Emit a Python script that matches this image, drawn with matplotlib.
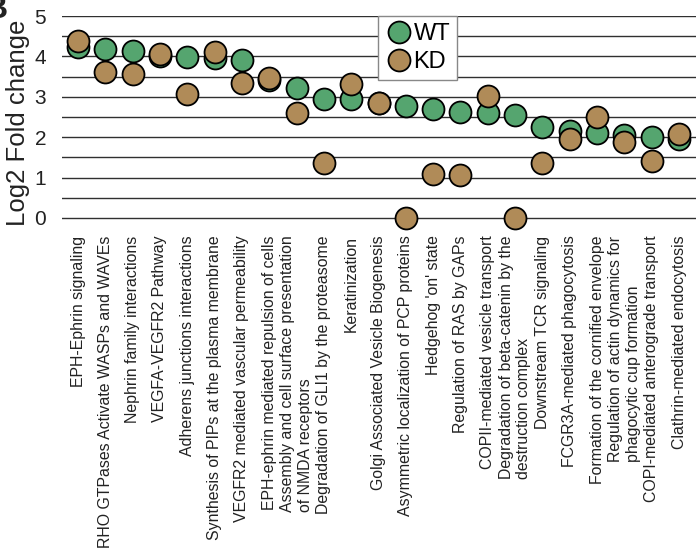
import matplotlib
matplotlib.use("Agg")
import matplotlib.pyplot as plt

plt.rcParams['font.family'] = ['Liberation Sans', 'DejaVu Sans']

pathways = [
    "EPH-Ephrin signaling",
    "RHO GTPases Activate WASPs and WAVEs",
    "Nephrin family interactions",
    "VEGFA-VEGFR2 Pathway",
    "Adherens junctions interactions",
    "Synthesis of PIPs at the plasma membrane",
    "VEGFR2 mediated vascular permeability",
    "EPH-ephrin mediated repulsion of cells",
    "Assembly and cell surface presentation\nof NMDA receptors",
    "Degradation of GLI1 by the proteasome",
    "Keratinization",
    "Golgi Associated Vesicle Biogenesis",
    "Asymmetric localization of PCP proteins",
    "Hedgehog 'on' state",
    "Regulation of RAS by GAPs",
    "COPII-mediated vesicle transport",
    "Degradation of beta-catenin by the\ndestruction complex",
    "Downstream TCR signaling",
    "FCGR3A-mediated phagocytosis",
    "Formation of the cornified envelope",
    "Regulation of actin dynamics for\nphagocytic cup formation",
    "COPI-mediated anterograde transport",
    "Clathrin-mediated endocytosis",
]

wt = [4.24, 4.19, 4.13, 4.00, 3.99, 3.97, 3.91, 3.41, 3.21, 2.94, 2.94, 2.85,
      2.77, 2.69, 2.63, 2.61, 2.55, 2.25, 2.15, 2.10, 2.05, 2.00, 1.96]
kd = [4.37, 3.62, 3.56, 4.05, 3.07, 4.10, 3.33, 3.47, 2.61, 1.36, 3.31, 2.85,
      0.00, 1.09, 1.05, 3.03, 0.00, 1.36, 1.95, 2.49, 1.89, 1.40, 2.07]

yticks = [0, 1, 2, 3, 4, 5]
gridlevels = [0, 0.5, 1, 1.5, 2, 2.5, 3, 3.5, 4, 4.5, 5]

green = "#55a56f"
brown = "#b08b58"

W, H = 696, 553
fig = plt.figure(figsize=(W / 100, H / 100), dpi=100)
ax = fig.add_axes([62 / W, 1 - 230 / H, (W - 62) / W, 214 / H])

x = list(range(len(pathways)))
for g in gridlevels:
    ax.axhline(g, color="#303030", lw=1.0, zorder=0)

ms = 15.8
ax.plot(x, wt, 'o', ms=ms, mfc=green, mec="black", mew=1.3, ls='none',
        clip_on=False, zorder=3, label="WT")
ax.plot(x, kd, 'o', ms=ms, mfc=brown, mec="black", mew=1.3, ls='none',
        clip_on=False, zorder=4, label="KD")

ax.set_xlim(-0.586, 22.62)
ax.set_ylim(-0.3, 5.0)
ax.set_yticks(yticks)
ax.set_yticklabels([str(t) for t in yticks], fontsize=15, color="#222222")
ax.tick_params(axis='y', length=0, pad=11.5)
ax.set_xticks(x)
ax.set_xticklabels(pathways, rotation=90, fontsize=11.4, ha='center', va='top',
                   multialignment='left', color="#222222")
ax.tick_params(axis='x', length=0, pad=4)
for s in ax.spines.values():
    s.set_visible(False)

ax.set_ylabel("Log2 Fold change", fontsize=18.5, color="#222222", labelpad=3)

leg = ax.legend(loc='upper left', bbox_to_anchor=((378 - 62) / (W - 62), 1.0),
                borderaxespad=0, fontsize=17, handletextpad=0.0,
                handlelength=1.2, labelspacing=0.25, borderpad=0.3,
                fancybox=False, framealpha=1, edgecolor="#888888")
leg.get_frame().set_linewidth(1.0)
leg.set_zorder(5)

fig.text(8 / W, 1 + 6 / H, "B", fontsize=24, fontweight='bold',
         ha='right', va='top', color="#222222")

fig.savefig("out.png", dpi=100)
